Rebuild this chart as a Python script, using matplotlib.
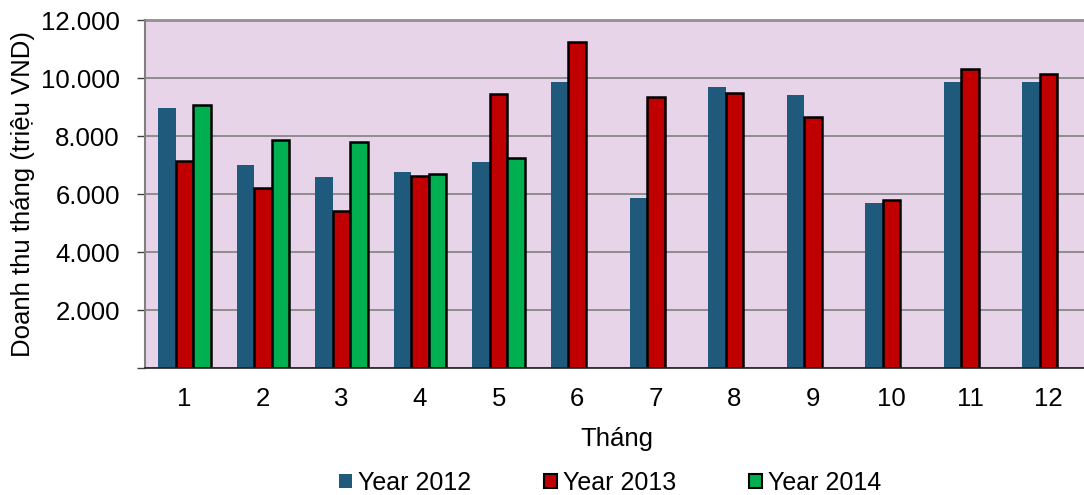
import matplotlib
matplotlib.use("Agg")
import matplotlib.pyplot as plt
from matplotlib.patches import Patch
import numpy as np

plt.rcParams['font.family'] = ['Liberation Sans', 'DejaVu Sans']

months = ['1', '2', '3', '4', '5', '6', '7', '8', '9', '10', '11', '12']
rev_2012 = [8970, 7010, 6570, 6760, 7090, 9870, 5870, 9680, 9410, 5680, 9860, 9850]
rev_2013 = [7150, 6190, 5420, 6630, 9450, 11240, 9340, 9490, 8650, 5780, 10310, 10150]
rev_2014 = [9060, 7860, 7780, 6680, 7240, np.nan, np.nan, np.nan, np.nan, np.nan, np.nan, np.nan]
series_names = ['Year 2012', 'Year 2013', 'Year 2014']
y_ticks = [0, 2000, 4000, 6000, 8000, 10000, 12000]
y_tick_labels = ['', '2.000', '4.000', '6.000', '8.000', '10.000', '12.000']

c_2012 = '#1F5A7C'
c_2013 = '#C00000'
c_2014 = '#00B050'
bg = '#E8D4E8'
fs = 18.5

fig = plt.figure(figsize=(10.84, 4.95), dpi=100)
ax = fig.add_axes([145 / 1084, 1 - 368 / 495, 943 / 1084, 348 / 495])
ax.set_facecolor(bg)

x = np.arange(1, len(months) + 1)
w = 0.223
ax.bar(x - w, rev_2012, width=w, color=c_2012, edgecolor='none', zorder=3)
ax.bar(x, rev_2013, width=w, color=c_2013, edgecolor='black', linewidth=1.8, zorder=3)
ax.bar(x + w, rev_2014, width=w, color=c_2014, edgecolor='black', linewidth=1.8, zorder=3)

ax.set_xlim(0.5, 12.5)
ax.set_ylim(0, 12000)
ax.set_yticks(y_ticks)
ax.set_yticklabels(y_tick_labels, fontsize=fs)
ax.set_xticks(x)
ax.set_xticklabels(months, fontsize=fs)
ax.tick_params(axis='x', length=0, pad=14)
ax.tick_params(axis='y', length=6, width=1, color='#404040', pad=12, direction='out')

ax.grid(axis='y', color='#808080', linewidth=1.2, zorder=1)
ax.set_axisbelow(True)
for side in ['top', 'right']:
    ax.spines[side].set_visible(False)
ax.spines['left'].set_color('#808080')
ax.spines['left'].set_linewidth(1.5)
ax.spines['bottom'].set_color('#202020')
ax.spines['bottom'].set_linewidth(1.2)
ax.spines['bottom'].set_zorder(4)
ax.axhline(12000, color='#909090', linewidth=2, zorder=2, clip_on=False)

ax.set_xlabel('Tháng', fontsize=fs, labelpad=11)
ax.set_ylabel('Doanh thu tháng (triệu VND)', fontsize=fs, labelpad=4)

handles = [
    Patch(facecolor=c_2012, edgecolor='none', label=series_names[0]),
    Patch(facecolor=c_2013, edgecolor='black', linewidth=1.5, label=series_names[1]),
    Patch(facecolor=c_2014, edgecolor='black', linewidth=1.5, label=series_names[2]),
]
fig.legend(handles=handles, loc='center', bbox_to_anchor=(610 / 1084, 1 - 483 / 495),
           ncol=3, frameon=False, fontsize=18, handlelength=0.52, handleheight=0.52,
           handletextpad=0.25, columnspacing=2.9, borderaxespad=0)

fig.savefig('out.png', dpi=100)
